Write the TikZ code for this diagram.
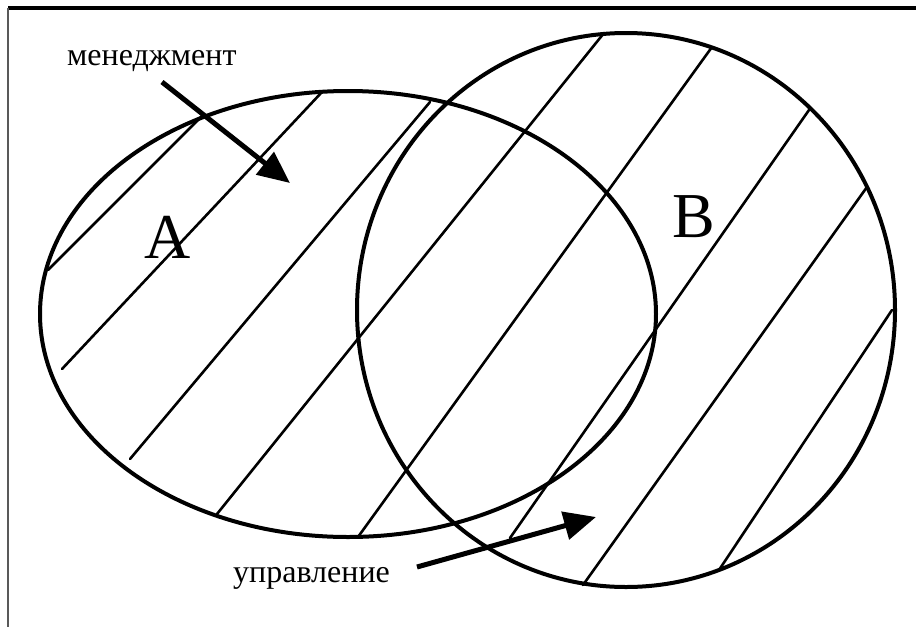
\documentclass[tikz,border=0pt]{standalone}
\usepackage{fontspec}
\setmainfont{Liberation Serif}
\usetikzlibrary{arrows.meta}
\tikzset{
  outline/.style={line width=4pt, black},
  hatch/.style={line width=2.6pt, black, line cap=round},
  bigarrow/.style={line width=5pt, black, -{Triangle[length=32pt,width=28pt]}},
  lbl/.style={inner sep=0pt, font=\fontsize{32}{38}\selectfont},
  letter/.style={inner sep=0pt, font=\fontsize{64}{70}\selectfont}
}
\begin{document}
\begin{tikzpicture}[x=1pt,y=-1pt]
\useasboundingbox (0,0) rectangle (916,627);
% frame (top and left only)
\draw[line width=3.2pt, black] (8,8) -- (916,8);
\draw[line width=2.4pt, black!65] (8,8) -- (8,627);
% shapes
\draw[outline] (348,314) ellipse [x radius=308, y radius=223];
\draw[outline] (626,310) ellipse [x radius=269, y radius=277];
% hatch lines
\draw[hatch] (48,270) -- (203,115);
\draw[hatch] (62,369) -- (322,92);
\draw[hatch] (130,459) -- (430,102);
\draw[hatch] (217,514) -- (604,33);
\draw[hatch] (358,537) -- (712,47);
\draw[hatch] (510,538) -- (809,110);
\draw[hatch] (583,585) -- (867,187);
\draw[hatch] (719,570) -- (892,310);
% letters
\node[letter, anchor=base] (A) at (168,258) {A};
\node[letter, anchor=base] (B) at (694,237) {B};
% labels
\node[lbl, anchor=base west] (mgmt) at (67,65) {менеджмент};
\node[lbl, anchor=base west] (upr) at (233,582) {управление};
% arrows
\coordinate (m1) at (162,82);
\coordinate (m2) at (290,183);
\coordinate (u1) at (417,567);
\coordinate (u2) at (596,517);
\draw[bigarrow] (m1) -- (m2);
\draw[bigarrow] (u1) -- (u2);
\end{tikzpicture}
\end{document}
